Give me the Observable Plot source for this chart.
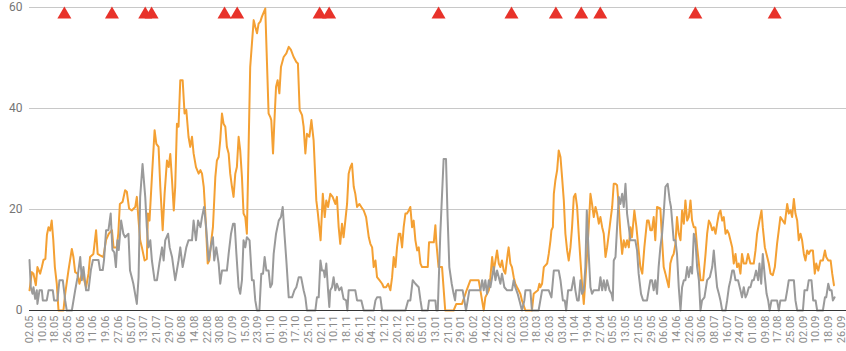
<!DOCTYPE html>
<html><head><meta charset="utf-8">
<script src="https://cdn.jsdelivr.net/npm/d3@7"></script>
<script src="https://cdn.jsdelivr.net/npm/@observablehq/plot@0.6"></script>
<style>
html,body{margin:0;padding:0;background:#fff;}
#chart svg{display:block;}
</style>
</head><body><div id="chart"></div>
<script>
// ---- data ----
const startDate = "2018-05-02";
const tickLabels = ["02.05","10.05","18.05","26.05","03.06","11.06","19.06","27.06","05.07","13.07","21.07","29.07","06.08","14.08","22.08","30.08","07.09","15.09","23.09","01.10","09.10","17.10","25.10","02.11","10.11","18.11","26.11","04.12","12.12","20.12","28.12","05.01","13.01","21.01","29.01","06.02","14.02","22.02","02.03","10.03","18.03","26.03","03.04","11.04","19.04","27.04","05.05","13.05","21.05","29.05","06.06","14.06","22.06","30.06","08.07","16.07","24.07","01.08","09.08","17.08","25.08","02.09","10.09","18.09","26.09"];
const yTicks = [0, 20, 40, 60];

// [day offset from startDate, value]
const orangeSeries = [[0,4],[1.5,7.6],[2.5,7.3],[4,5],[5,8.6],[6.7,7.3],[7.8,8.6],[8.8,10],[10,10.2],[11,15],[12,16.5],[13,15.8],[14,17.8],[15,14],[16,8.6],[17.2,5.3],[18.3,0],[21.4,0],[22.5,3.3],[24.6,8],[26.7,12.2],[27.7,10.6],[28.8,7.6],[30.3,7.3],[31.5,5.3],[33,7.3],[34,6.6],[35.7,4.6],[37.2,7.3],[38.2,10.6],[40.3,11.2],[42,15.9],[43,11.2],[44.5,10.9],[46.6,10.6],[48.3,14],
[50,15.2],[52,15.9],[53,12.5],[55,12.5],[56,15.2],[57,21.1],[58.7,21.5],[60.3,23.8],[61.4,23.5],[62.8,20.2],[64.5,19.8],[66.7,20.5],[67.7,22.5],[68.8,17.8],[69.8,13.9],[70.9,12.5],[72.6,9.9],[74,10.2],[74.7,19.2],[75.7,17.8],[77.2,26.4],[78.9,35.7],[80,33],[81.4,32.4],[82.5,24.5],[84,15.9],[85.2,23.1],[86.7,29.7],[87.8,28.4],[88.8,31],[89.9,25.8],[91,19.8],[91.9,24.5],[93,37],[94,36.4],[95.1,45.6],[96.6,45.6],[97.8,39],[98.9,39.7],[100.3,34.4],[101.4,32.4],[102.5,34.4],[103.5,31.1],[105,28.4],[106.7,27.1],[107.8,27.8],[108.8,27.1],[109.9,24.5],[110.9,19.2],[112.4,9.3],[113.4,9.9],
[114.7,13.9],[115.7,16.5],[117.2,26.4],[118.2,29.7],[119.3,30.4],[120.3,33.7],[121.4,39],[122.4,37],[123.5,36.4],[124.5,32.4],[125.6,31.1],[126.6,27.1],[127.7,24.5],[128.7,22.5],[129.8,27.1],[130.8,28.4],[131.9,34.4],[132.9,31.7],[134,26.4],[135,19.2],[136.1,18.5],[137.1,15.2],[138.2,32.4],[139.2,48.2],[140.3,52.9],[141.4,57.5],[142.4,56.2],[143.5,54.9],[144.5,56.8],[145.6,57.2],[146.6,58.2],[148.7,59.8],[149.8,48.9],[150.8,39],[151.9,38.3],[152.5,37.7],[153.6,31.1],[154.4,37],[155.5,44.3],[156.5,45.6],[157.6,43],[158.6,48.2],[160.3,50.2],[162,50.9],[163.5,52.2],[164.9,51.6],[166.6,50.2],[168.3,49.2],[169.3,48.9],[170.4,39.7],[171.9,38.7],[172.9,36.4],[174,31.1],[175,35],[176.5,34.4],[177.8,37.7],[179.2,33.7],
[180.9,21.8],[181.8,19.5],[183.6,13.9],[185,23.1],[186.2,18.5],[187.2,21.8],[188.3,20.5],[189.7,23.1],[191.2,22.5],[192.9,21.1],[193.9,22.5],[195,16.5],[196,13.2],[197.1,17.2],[198.1,14.5],[200.3,21.1],[201.3,27.1],[202.4,28.4],[203.4,29.1],[204.5,24.5],[205.5,23.1],[206.6,20.5],[208.1,21.1],[209.3,20.5],[210.8,19.8],[212.3,18.5],[214,14.5],[215,13.2],[216.1,12.5],[217.1,8.6],[218.2,9.9],[219.2,6.6],[220.7,6],[222.4,5.3],[223.4,4.6],[224.9,4.6],[226.2,5.3],[227.6,4],[228.7,6.6],[229.7,10.6],[230.8,8.6],[231.8,12.5],[232.9,15.2],[233.9,15.2],[235,12.5],[236,16.5],[237.1,19.2],[238.1,19.2],[239.2,19.8],[240.2,20.5],[241.3,16.5],[242.3,17.8],[243.4,13.9],[244.5,11.9],[245.5,12.5],[246.6,9.3],
[247.6,8.6],[251.2,8.6],[252,13.5],[255,13.5],[256,16.9],[256.6,13.5],[258,8.6],[260.2,8.6],[262.2,0],[267.5,0],[269.2,1.3],[272.8,1.3],[275.7,4],[278.1,6],[283.3,6],[284.4,4],[286.5,0],[287.5,2.6],[289.7,4],[290.7,6.6],[291.8,10.6],[292.8,7.9],[293.9,9.9],[294.9,11.9],[296,9.3],[297,8.6],[298,9.9],[299.1,7.9],[300.1,7.3],[301.6,11.2],[302.2,12.5],[303.3,9.3],[304.3,8.6],[305.4,6.6],[306.4,5.3],[307.5,4.6],[308.5,4],[309.6,3.3],[310.6,2],[312.8,0],
[316.9,0],[318,3.3],[319.1,3.6],[320.7,4],[321.6,5.3],[322.2,4.6],[323.3,5.3],[324.4,8.6],[326.5,9.3],[327.5,11.2],[328.6,13.9],[329.2,15.9],[330.1,16.5],[330.7,23.1],[331.7,25.8],[332.8,27.8],[333.8,31.7],[334.9,30.4],[335.9,26.4],[337,21.8],[338,15.2],[339.1,11.9],[340.1,9.9],[341.2,12.5],[342.2,16.5],[343.3,22.5],[344.3,23.1],[345.4,20.5],[346.4,15.2],[347.5,9.9],[348.5,5.3],[349.6,1.3],[350.6,6],[351.7,11.2],[352.7,16.5],[353.8,23.1],[354.8,21.1],[355.9,18.5],[357,20.5],[358,19.2],[359.1,17.2],[360.1,18.5],[361.2,16.5],[362.2,15.2],[363.3,10.6],[364.3,12.5],[365.4,15.2],[366.4,17.8],[367.5,20.5],[368.5,25.1],[369.6,25.1],[370.6,24.8],[371.7,20.5],[372.7,15.2],[373.8,11.2],[374.8,13.9],[375.9,12.5],[376.9,13.9],[378,12.5],
[379,16.5],[380,14.5],[381.5,19.8],[382.8,16.5],[384.2,11.9],[385.3,8.6],[386.5,7.3],[387.8,12.5],[389.5,17.8],[390.5,17.8],[391.6,15.9],[392.6,15.9],[393.7,18.5],[394.7,13.9],[395.8,20.5],[397.9,20.2],[399,13.9],[400,8.6],[401.1,7.3],[402.1,6],[403.2,4.6],[404.2,9.3],[405.3,10.6],[406.3,11.2],[407.4,13.2],[408.4,18.5],[409.5,15.2],[410.6,13.9],[411.6,19.8],[412.7,17.2],[413.7,21.8],[414.8,17.8],[415.8,18.5],[416.9,21.8],[417.9,17.8],[419,16.5],[420,16.5],[421.1,12.5],[422.2,9.3],[423.2,6],[424.9,6],[426.4,11.2],[427.4,15.2],[428.5,17.8],[429.5,17.2],[430.6,15.9],[431.6,16.5],[432.7,15.2],[433.7,17.2],[434.8,19.2],[435.8,19.8],[436.9,17.8],[437.9,18.5],[439,15.2],[440,15.9],[441.1,15.2],[442.1,13.9],[443.2,12.5],[444.2,9.3],
[445.3,11.2],[446.3,8.6],[447.3,9.3],[448.4,7.3],[449.4,11.2],[450.5,9.3],[452,9.3],[453.2,11.2],[454.7,9.3],[456.8,9.3],[457.9,11.9],[458.9,15.2],[460.4,17.8],[461.7,19.8],[462.5,16.5],[463.8,12.5],[465.3,10.6],[466.3,9.3],[467.4,7.3],[468.8,7],[470.1,8.6],[471.5,13.2],[472.6,15.9],[473.6,18.5],[475.1,17.8],[476.4,17.2],[477.9,21.1],[478.9,19.2],[480,19.8],[481,18.5],[482.1,22.1],[483.1,19.2],[484.2,17.8],[485.2,13.9],[486.3,15.2],[487.3,13.9],[488.4,11.2],[489.4,9.9],[490.5,11.9],[491.5,11.2],[492.6,11.9],[494.1,11.9],[495.3,7.3],[496.2,9.3],[497.5,7.9],[498.9,9.9],[500.4,9.9],[501.7,11.9],[502.5,10.6],[503.8,9.9],[505.3,9.9],[506.3,7.3],[507.4,5]];

const graySeries = [[0,10],[0.8,4.6],[1.9,3.3],[2.5,4.6],[3.6,2.3],[4.6,4],[5,1.3],[6.3,4],[7.8,4],[8.4,2],[10.9,2],[12,4],[14.7,4],[15.5,2],[17.6,2],[18.9,6],[21,6],[22.5,2],[23.5,0],[26.7,0],[28.8,4],[30.3,6.6],[32,10.6],[33,6],[34,8.6],[35.7,4],[37.2,4],[38.7,8],[40,10],[43.5,10],[44.5,8],[46.2,8],[47,10],[48.3,15.9],[49.8,15.9],[51.2,19.2],[52.3,12],
[53.5,11.5],[54.5,8.6],[55.5,13.9],[56.3,12],[57.8,17.8],[59.2,15.2],[60.3,14.5],[62.4,15.2],[63.4,7.9],[64.5,6.6],[65.5,5.3],[67.7,1.3],[68.8,6.6],[69.8,22.5],[71.3,29],[73,22.5],[74,16.5],[75,12.5],[76.2,13.9],[77.2,9.9],[78.9,6],[80.4,6],[81.9,9.3],[83.6,12.5],[84.6,9.9],[85.6,13.9],[87.4,15.2],[88.4,12.5],[89.9,10.6],[91.9,6],[94,9.9],[95.1,12.5],[96.6,8.6],[97.8,10.6],[98.9,12.5],[100.3,13.9],[102.5,13.9],[103.5,17.8],[105,13.9],[106.3,17.8],[107.8,16.5],[108.8,18.5],[110.1,20.5],[111.4,16.5],[113,9.9],[114.7,13.2],
[115.7,14.5],[116.5,9.9],[117.8,12.5],[119.3,9.3],[120.3,5.3],[121.4,7.9],[124.5,7.9],[125.6,11.2],[127.1,15.2],[128.4,17.2],[129.4,17.2],[130.5,11.2],[131.9,4.6],[132.9,3.3],[134,6],[135,13.9],[136.1,12.5],[137.1,14.5],[138.8,13.9],[140.3,6],[141.4,6],[142.4,2],[143.5,0],[145,0],[146.2,7.3],[147.3,7.3],[148.3,10.6],[149.4,7.9],[150.8,7.9],[151.9,4.6],[153,5.3],[154,11.2],[155.5,15.2],[157.2,17.8],[158.6,18.5],[159.7,20.5],[160.8,15.2],[162,9.9],[163.5,2.6],[165.6,2.6],[167.1,4],[168.3,4.6],[169.8,6.6],[171.3,6.6],[172.9,4],[174,2.6],[175,0],[180.3,0],[181.3,2.6],[182.4,2.6],[183.5,9.9],[184.5,7.9],[185.6,7.9],
[186.2,6.6],[187.2,9.3],[188.3,4],[189.1,0.7],[189.7,4],[190.8,4.6],[191.8,6.6],[192.9,4],[193.9,5.3],[195.4,4],[196.7,4.6],[198.1,2.3],[199.7,2],[200.5,0],[201.3,4],[205.5,4],[206.6,2],[209.3,2],[210.8,0],[217.1,0],[218.2,2],[219.2,2.6],[221.3,2.6],[222.4,0],[237.1,0],[238.8,2],[240.2,2],[241.7,6],[243.4,5.3],[245.5,4.6],[246.6,2],[247.6,0],
[251.2,0],[252,2],[256,2],[256.6,0],[257.5,0],[259.1,15.2],[261.2,30],[262.7,30],[263.7,18.5],[264.8,8.6],[266.3,5.3],[267.5,3.3],[268.4,2],[269,4],[273.2,4],[274.3,2],[275.3,0],[276.4,2],[277.4,4],[284.4,4],[285.5,6],[286.5,4],[287.5,6],[288.6,3.3],[289.7,6],[290.7,4.6],[291.8,6.6],[292.8,8.6],[293.9,6],[294.9,7.9],[296,6.6],[297,5.3],[298,7.3],[299.5,4.6],[301.2,4],[304.3,4],[305.4,6],[306.4,4.6],[307.9,3.3],[309,2],[310.6,0],[312.1,2],[312.8,4],
[315.9,4],[316.9,0],[321.1,0],[323.3,4],[327.5,4],[329.2,2.6],[330.7,7.9],[333.8,7.9],[334.9,6],[336.4,2],[337.6,2],[338.5,0],[339.7,4],[341.8,4],[343.3,6.6],[344.3,4],[345.4,2],[346.4,2],[347.5,6],[348.5,3.3],[349.6,4],[350.6,8.6],[351.5,19.8],[352.7,11.2],[353.8,4.6],[354.8,3.3],[355.9,4],[359.1,4],[360.1,6.6],[361.2,4],[362.2,6],[363.3,4],[364.3,6],[365.8,4],[367.1,3.3],[367.9,2],[368.5,9.9],[369.6,10.6],[370.6,16.5],[371.7,22.5],[372.7,21.1],[373.8,23.1],[374.8,20.5],[375.9,25.1],[376.9,19.2],[378,16.5],[379,13.9],
[382.1,13.9],[383.2,11.9],[384.2,7.3],[385.7,3.3],[387,2],[389.5,2],[390.5,4],[391.6,6],[392.6,6],[393.7,4],[394.7,6],[395.8,3.3],[396.8,8.6],[397.9,12.5],[399,15.2],[400,19.2],[401.1,24.5],[402.5,25.1],[403.8,21.8],[404.6,20.5],[405.3,17.8],[406.3,13.9],[407.4,13.9],[408.4,11.2],[409.5,4.6],[410.6,0],[411.6,4.6],[412.7,6],[413.7,6],[414.8,8.6],[415.8,6.6],[416.9,8.6],[417.9,7.3],[419,15.2],[420,13.9],[421.1,8.6],[422.2,6],[423.2,0],[424.2,2],[425.7,2.6],[427.4,6],[429.1,6.6],[430.6,8.6],[431.6,11.9],[432.7,7.9],[433.7,4.6],[434.8,3.3],[435.8,2],[436.9,0],[439,0],[440,2],[441.1,4.6],[442.1,6],[443.2,7.9],[444.2,7.9],
[445.3,6],[446.9,6],[448.4,4],[449.4,2.6],[450.5,4.6],[451.6,2.6],[452.6,3.3],[453.7,4.6],[454.7,4.6],[455.8,6],[456.8,6],[458.3,7.9],[459.6,6],[460.4,9.3],[461.5,5.3],[462.5,11.2],[463.8,6.6],[464.9,3.3],[465.9,2],[466.8,0],[468,2],[471.5,2],[472.6,0],[473.6,2],[476.8,2],[477.9,4],[478.9,6],[482.1,6],[483.1,2],[484.2,0],[487.8,0],[488.8,4],[490.5,4],[491.5,6],[493.2,6],[494.3,2],[495.8,2],[496.8,0],[500.4,0],[501.7,2.6],[502.5,2.6],[503.8,5.3],[504.8,4],[505.9,4],[506.7,2],[507.8,2.6]];

// event markers (day offsets) drawn near the top
const markerDays = [22, 52, 73, 77, 123, 131, 183, 189, 258, 304, 332, 348, 360, 420, 470];
const markerLevel = 58.6;
const xEndDay = 515.3;

// ---- build ----
const t0 = Date.parse(startDate + "T00:00:00Z");
const toDate = d => new Date(t0 + d * 864e5);

let year = 2018, prevMonth = 0;
const tickDates = tickLabels.map(s => {
  const [dd, mm] = s.split(".").map(Number);
  if (mm < prevMonth) year++;
  prevMonth = mm;
  return new Date(Date.UTC(year, mm - 1, dd));
});

const orange = orangeSeries.map(([d, v]) => ({date: toDate(d), value: v}));
const gray = graySeries.map(([d, v]) => ({date: toDate(d), value: v}));
const markers = markerDays.map(d => ({date: toDate(d), value: markerLevel}));

const chart = Plot.plot({
  width: 846,
  height: 351,
  marginLeft: 29,
  marginRight: 0,
  marginTop: 7,
  marginBottom: 41,
  style: {fontFamily: "Roboto, 'Noto Sans', sans-serif", background: "#fff", color: "#777"},
  x: {type: "utc", domain: [toDate(0), toDate(xEndDay)]},
  y: {domain: [0, 60]},
  marks: [
    Plot.gridY(yTicks.filter(v => v > 0), {stroke: "#c8c8c8", strokeOpacity: 1, strokeWidth: 1}),
    Plot.axisY({ticks: yTicks, tickSize: 0, tickPadding: 7, fontSize: 12, label: null, fill: "#757575"}),
    Plot.axisX({ticks: tickDates, tickFormat: (d, i) => tickLabels[i], tickRotate: -90, tickSize: 0, tickPadding: 5, fontSize: 11, label: null, fill: "#8a8a8a"}),
    Plot.line(orange, {x: "date", y: "value", stroke: "#f4a033", strokeWidth: 2}),
    Plot.line(gray, {x: "date", y: "value", stroke: "#9a9a9a", strokeWidth: 2}),
    Plot.ruleY([0], {stroke: "#333", strokeWidth: 1.2}),
    Plot.dot(markers, {x: "date", y: "value", symbol: "triangle", r: 5.2, fill: "#e8322a", stroke: "none"})
  ]
});
document.getElementById("chart").append(chart);
</script>
</body></html>
